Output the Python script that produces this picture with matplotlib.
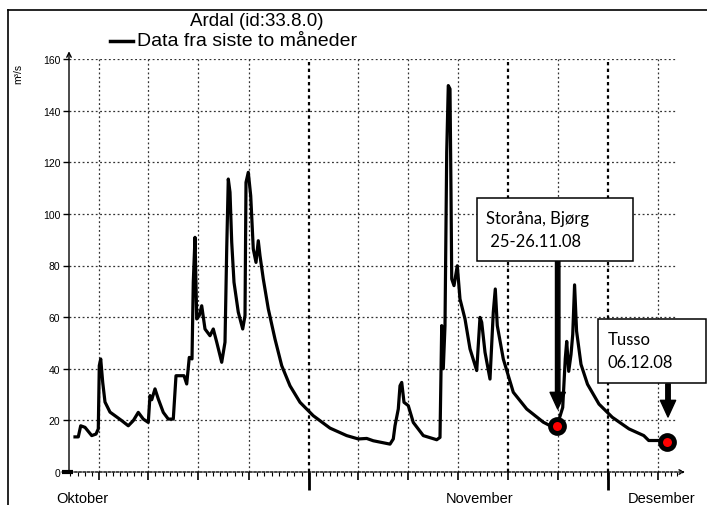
import matplotlib
matplotlib.use("Agg")
import matplotlib.pyplot as plt
from matplotlib.patches import Rectangle
from matplotlib.lines import Line2D
import numpy as np

# flow series (x in days from the y axis, m3/s)
days = [0.84, 1.30, 1.64, 2.24, 3.18, 3.78, 4.10, 4.24, 4.44, 4.72, 5.04, 5.74,
        6.44, 7.38, 8.30, 9.00, 9.70, 10.40, 11.10, 11.34, 11.58, 12.04, 12.50,
        13.20, 13.90, 14.60, 14.98, 15.54, 16.10, 16.48, 16.84, 17.22, 17.40,
        17.64, 17.88, 18.24, 18.58, 19.04, 19.74, 20.20, 20.68, 21.38, 21.84,
        22.08, 22.30, 22.54, 22.78, 23.10, 23.70, 24.32, 24.64, 24.78, 25.10,
        25.44, 25.80, 26.18, 26.50, 26.74, 27.20, 27.90, 28.84, 29.78, 30.94,
        32.34, 34.20, 36.54, 38.88, 40.50, 41.68, 42.60, 44.94, 45.40, 45.64,
        46.10, 46.34, 46.58, 46.90, 47.50, 48.20, 49.60, 51.48, 51.94, 52.18,
        52.40, 52.64, 52.88, 53.10, 53.34, 53.48, 53.58, 53.90, 54.36, 54.74,
        55.44, 56.14, 57.08, 57.54, 57.78, 58.24, 58.94, 59.40, 59.68, 59.96,
        60.80, 62.20, 64.08, 66.40, 67.80, 68.32, 69.12, 69.48, 69.68, 69.96,
        70.28, 70.52, 70.78, 71.06, 71.68, 72.59, 74.20, 76.06, 78.40, 80.47,
        81.16, 82.56, 83.86]
flow = [13.6, 13.6, 17.9, 17.3, 14.1, 14.7, 16.7, 41.2, 43.8, 34.7, 27.1, 23.2,
        21.8, 19.9, 17.9, 19.9, 23.1, 20.5, 19.2, 29.6, 28.0, 32.2, 28.3,
        23.1, 20.5, 20.5, 37.3, 37.3, 37.3, 34.1, 44.4, 43.8, 73.5,
        90.9, 59.3, 60.6, 64.4, 55.4, 52.8, 55.4, 50.3, 42.5, 50.3,
        86.4, 113.5, 108.4, 89.0, 73.5, 61.9, 55.4, 60.6, 112.2, 116.1,
        107.0, 86.4, 81.2, 89.6, 83.8, 74.8, 63.2, 51.5, 41.2, 33.4,
        27.0, 21.8, 17.0, 14.1, 12.8, 13.0, 12.1, 10.8, 12.8, 17.9,
        24.4, 33.4, 34.7, 27.0, 25.7, 19.2, 14.1, 12.5, 13.4, 56.7,
        40.0, 56.7, 123.9, 149.7, 148.4, 108.4, 74.8, 72.2, 79.9, 67.0,
        59.3, 47.7, 39.3, 59.9, 58.0, 46.4, 36.0, 61.9, 70.9, 56.7,
        43.8, 30.9, 24.4, 19.3, 17.3, 17.8, 25.0, 44.0, 50.6, 39.0,
        45.5, 53.2, 72.5, 54.6, 41.7, 34.0, 26.3, 21.2, 16.7, 14.1,
        12.2, 12.2, 11.6]

# marked points
mark_days = [68.32, 83.70]
mark_flow = [17.8, 11.6]

yticks = [0, 20, 40, 60, 80, 100, 120, 140, 160]
grid_days = [4.2, 11.1, 18.1, 25.2, 33.6, 40.5, 47.5, 54.5, 61.5, 68.5, 75.5, 82.5]
heavy_days = [33.6, 61.5, 75.5]
long_tick_days = [33.6, 75.5]
month_labels = ["Oktober", "November", "Desember"]
month_px = [82.5, 480, 661.5]

W, H = 707, 506
fig = plt.figure(figsize=(W / 100, H / 100), dpi=100)
plt.rcParams['font.family'] = ['Liberation Sans', 'DejaVu Sans']


def fx(px):
    return px / W


def fy(py):
    return 1 - py / H


# outer frame
fig.add_artist(Line2D([fx(8), fx(8)], [fy(11), 0], color='black', lw=1.2, transform=fig.transFigure))
fig.add_artist(Line2D([fx(8), 1], [fy(11), fy(11)], color='black', lw=1.2, transform=fig.transFigure))

ax = fig.add_axes([fx(69), fy(473), fx(685) - fx(69), fy(60) - fy(473)])
ax.set_xlim(0, 86.24)
ax.set_ylim(0, 160)
for s in ax.spines.values():
    s.set_visible(False)

# grid
for g in yticks[1:]:
    ax.plot([0, 85.1], [g, g], color='#333333', lw=0.9, ls=(0, (1.5, 2)), zorder=1)
for g in grid_days:
    if g in heavy_days:
        ax.plot([g, g], [0, 160], color='black', lw=1.6, ls=(0, (1.5, 1.5)), zorder=1)
    else:
        ax.plot([g, g], [0, 160], color='#333333', lw=0.9, ls=(0, (1.5, 2)), zorder=1)

# axes with arrows
ax.annotate('', xy=(0, 163), xytext=(0, 0), annotation_clip=False,
            arrowprops=dict(arrowstyle='->', lw=1, color='black', shrinkA=0, shrinkB=0,
                            mutation_scale=8))
ax.annotate('', xy=(86.24, 0), xytext=(-0.98, 0), annotation_clip=False,
            arrowprops=dict(arrowstyle='->', lw=1, color='black', shrinkA=0, shrinkB=0,
                            mutation_scale=8, linestyle=(0, (2, 1))))
ax.plot([-0.98, 0.56], [0, 0], color='black', lw=3, clip_on=False, solid_capstyle='butt')

ax.set_yticks(yticks)
ax.set_yticklabels([str(v) for v in yticks], fontsize=7.5)
ax.tick_params(axis='y', direction='out', length=4.3, width=1, pad=2)

minor = []
edges = [0.2] + grid_days + [86.0]
for a, b in zip(edges[:-1], edges[1:]):
    minor += list(np.arange(a, b - 0.3, (b - a) / max(1, round(b - a))))
ax.set_xticks(grid_days)
ax.set_xticks(minor, minor=True)
ax.set_xticklabels([])
ax.tick_params(axis='x', which='major', direction='out', length=5.5, width=1.2)
ax.tick_params(axis='x', which='minor', direction='out', length=3, width=0.8)
for d in long_tick_days:
    ax.plot([d, d], [0, -7.0], color='black', lw=2, clip_on=False, solid_capstyle='butt')

# data
ax.plot(days, flow, color='black', lw=2.3, zorder=3)
ax.plot(mark_days, mark_flow, 'o', ms=10, mfc='red', mec='black', mew=3.5, zorder=5,
        clip_on=False)

# texts
fig.text(fx(257), fy(22), "Ardal (id:33.8.0)", fontsize=13.5, ha='center', va='center')
fig.add_artist(Line2D([fx(110), fx(133)], [fy(42), fy(42)], color='black', lw=2.5,
                      transform=fig.transFigure))
fig.text(fx(137), fy(42), "Data fra siste to måneder", fontsize=14, ha='left', va='center')
fig.text(fx(18), fy(74), "m³/s", fontsize=7.5, rotation=90, ha='center', va='center')
for lab, px in zip(month_labels, month_px):
    fig.text(fx(px), fy(499), lab, fontsize=10.5, ha='center', va='center')

# annotation boxes
anno = "Lato"
fig.add_artist(Rectangle((fx(476.5), fy(261.7)), fx(632.7) - fx(476.5), fy(199) - fy(261.7),
                         transform=fig.transFigure, fill=True, fc='white', ec='black', lw=1.1))
fig.text(fx(486.5), fy(219), "Storåna, Bjørg", fontsize=12, family=anno, ha='left', va='center')
fig.text(fx(486.5), fy(242), " 25-26.11.08", fontsize=12, family=anno, ha='left', va='center')
fig.add_artist(Rectangle((fx(597.7), fy(384)), fx(706) - fx(597.7), fy(320) - fy(384),
                         transform=fig.transFigure, fill=True, fc='white', ec='black', lw=1.1))
fig.text(fx(608), fy(340), "Tusso", fontsize=12, family=anno, ha='left', va='center')
fig.text(fx(608), fy(363), "06.12.08", fontsize=12, family=anno, ha='left', va='center')

ax.annotate('', xy=(557.7, H - 410), xytext=(557.7, H - 262.5), xycoords='figure pixels',
            textcoords='figure pixels',
            arrowprops=dict(width=3.2, headwidth=11, headlength=12, fc='black', ec='black', shrink=0))
ax.annotate('', xy=(668, H - 418), xytext=(668, H - 385), xycoords='figure pixels',
            textcoords='figure pixels',
            arrowprops=dict(width=3.2, headwidth=11, headlength=12, fc='black', ec='black', shrink=0))

fig.savefig("out.png", dpi=100)
